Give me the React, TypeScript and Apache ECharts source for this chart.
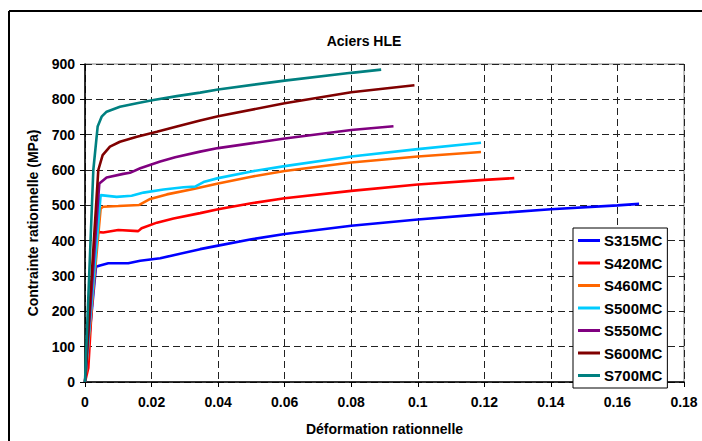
import React, { useEffect, useRef } from "react";
import * as echarts from "echarts";

const seriesNames = ["S315MC", "S420MC", "S460MC", "S500MC", "S550MC", "S600MC", "S700MC"];
const seriesColors = ["#0000FF", "#FF0000", "#FF6600", "#00CCFF", "#800080", "#800000", "#008080"];

const s315Strain = [0, 0.0033, 0.0045, 0.007, 0.013, 0.0166, 0.0226, 0.0266, 0.0346, 0.04, 0.05, 0.06, 0.08, 0.1, 0.12, 0.14, 0.16, 0.1665];
const s315Stress = [0, 326, 330, 336, 336, 343, 350, 359, 376, 386, 404, 419, 442, 460, 475, 489, 500, 504];

const s420Strain = [0, 0.001, 0.0033, 0.0055, 0.01, 0.016, 0.017, 0.0216, 0.0266, 0.0346, 0.04, 0.05, 0.06, 0.08, 0.1, 0.12, 0.129];
const s420Stress = [0, 40, 425, 423, 430, 427, 435, 451, 463, 478, 489, 506, 520, 541, 559, 572, 577];

const s460Strain = [0, 0.0047, 0.0055, 0.01, 0.0163, 0.0196, 0.0246, 0.0326, 0.04, 0.05, 0.06, 0.08, 0.1, 0.119];
const s460Stress = [0, 491, 496, 498, 501, 518, 531, 546, 562, 581, 597, 621, 638, 651];

const s500Strain = [0, 0.0047, 0.0095, 0.014, 0.0176, 0.0236, 0.0296, 0.0331, 0.0356, 0.04, 0.05, 0.06, 0.08, 0.1, 0.119];
const s500Stress = [0, 529, 524, 527, 536, 545, 551, 553, 566, 577, 596, 611, 638, 659, 677];

const s550Strain = [0, 0.0043, 0.0065, 0.0115, 0.0135, 0.0166, 0.0226, 0.0271, 0.0346, 0.04, 0.06, 0.08, 0.0927];
const s550Stress = [0, 562, 579, 589, 592, 605, 624, 636, 652, 662, 689, 713, 724];

const s600Strain = [0, 0.004, 0.0053, 0.0075, 0.0105, 0.0156, 0.0216, 0.0276, 0.0346, 0.04, 0.06, 0.08, 0.099];
const s600Stress = [0, 600, 642, 666, 680, 694, 708, 723, 740, 752, 789, 820, 840];

const s700Strain = [0, 0.0025, 0.0038, 0.005, 0.0065, 0.0105, 0.0156, 0.0206, 0.0276, 0.0346, 0.04, 0.06, 0.08, 0.089];
const s700Stress = [0, 600, 723, 751, 765, 779, 789, 798, 809, 819, 828, 853, 875, 884];

const strainLists = [s315Strain, s420Strain, s460Strain, s500Strain, s550Strain, s600Strain, s700Strain];
const stressLists = [s315Stress, s420Stress, s460Stress, s500Stress, s550Stress, s600Stress, s700Stress];

const FONT = "'Liberation Sans', Arial, sans-serif";

export default function App() {
  const ref = useRef<HTMLDivElement>(null);
  useEffect(() => {
    if (!ref.current) return;
    const chart = echarts.init(ref.current, undefined, { renderer: "svg" });
    const series = seriesNames.map((name, i) => ({
      name,
      type: "line",
      symbol: "none",
      data: strainLists[i].map((x, j) => [x, stressLists[i][j]]),
      lineStyle: { color: seriesColors[i], width: 2.6 },
      itemStyle: { color: seriesColors[i] },
    }));
    chart.setOption({
      animation: false,
      backgroundColor: "#ffffff",
      textStyle: { fontFamily: FONT },
      title: {
        text: "Aciers HLE",
        left: 359,
        top: 29,
        textAlign: "center",
        textStyle: { fontFamily: FONT, fontWeight: "bold", fontSize: 14, color: "#000" },
      },
      grid: {
        left: 85,
        right: 18,
        top: 64,
        bottom: 59,
        show: true,
        borderColor: "#808080",
        borderWidth: 1,
      },
      legend: {
        orient: "vertical",
        left: 573,
        top: 228,
        icon: "rect",
        itemWidth: 22,
        itemHeight: 3,
        itemGap: 7.5,
        padding: [5, 5, 5, 5],
        backgroundColor: "#ffffff",
        borderColor: "#000",
        borderWidth: 1,
        textStyle: { fontFamily: FONT, fontWeight: "bold", fontSize: 15, color: "#000", padding: [0, 0, 0, -1] },
        data: seriesNames,
      },
      xAxis: {
        type: "value",
        min: 0,
        max: 0.18,
        interval: 0.02,
        name: "Déformation rationnelle",
        nameLocation: "middle",
        nameGap: 40,
        nameTextStyle: { fontFamily: FONT, fontWeight: "bold", fontSize: 14, color: "#000" },
        axisLine: { show: true, onZero: false, lineStyle: { color: "#000", width: 1.5 } },
        axisTick: { show: true, inside: false, length: 5, lineStyle: { color: "#000" } },
        axisLabel: {
          margin: 13,
          fontFamily: FONT,
          fontWeight: "bold",
          fontSize: 14,
          color: "#000",
          formatter: (v: number) => String(+v.toFixed(2)),
        },
        splitLine: { show: true, lineStyle: { color: "#222", type: [7, 4], width: 1 } },
      },
      yAxis: {
        type: "value",
        min: 0,
        max: 900,
        interval: 100,
        name: "Contrainte rationnelle (MPa)",
        nameLocation: "middle",
        nameGap: 45,
        nameTextStyle: { fontFamily: FONT, fontWeight: "bold", fontSize: 14, color: "#000" },
        axisLine: { show: true, lineStyle: { color: "#000", width: 1.5 } },
        axisTick: { show: true, inside: false, length: 5, lineStyle: { color: "#000" } },
        axisLabel: { margin: 10, fontFamily: FONT, fontWeight: "bold", fontSize: 14, color: "#000" },
        splitLine: { show: true, lineStyle: { color: "#222", type: [7, 4], width: 1 } },
      },
      graphic: [
        { type: "line", shape: { x1: 9, y1: 11, x2: 702, y2: 11 }, style: { stroke: "#000", lineWidth: 2 } },
        { type: "line", shape: { x1: 9, y1: 11, x2: 9, y2: 441 }, style: { stroke: "#000", lineWidth: 2 } },
      ],
      series,
    });
    return () => chart.dispose();
  }, []);
  return <div ref={ref} style={{ position: "fixed", left: 0, top: 0, width: 702, height: 441 }} />;
}
